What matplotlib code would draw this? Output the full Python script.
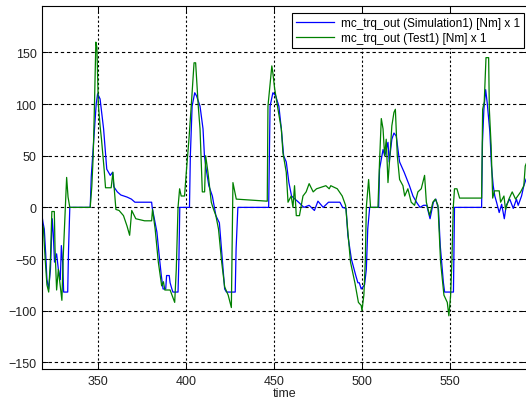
import matplotlib
matplotlib.use("Agg")
import matplotlib.pyplot as plt

# mc_trq_out, simulation run
sim_t = [318.2, 318.8, 319.5, 320.3, 321.0, 322.0, 323.0, 324.0, 324.6, 325.3, 326.5, 327.5,
         328.6, 329.2, 330.0, 330.5, 332.8, 333.3, 334.0, 345.6, 346.2, 347.0, 348.0, 349.0,
         349.8, 351.2, 353.2, 355.0, 357.0, 358.3, 359.0, 361.0, 363.0, 366.5, 369.0, 371.0,
         376.5, 380.5, 380.8, 382.5, 383.5, 385.0, 386.0, 387.0, 388.5, 389.0, 390.5, 391.0,
         392.0, 392.6, 395.5, 396.0, 396.5, 402.0, 402.5, 403.5, 405.0, 406.0, 408.0, 409.7,
         410.5, 411.5, 413.0, 415.0, 417.0, 419.0, 420.5, 422.0, 423.0, 428.0, 428.5, 429.5,
         447.0, 447.8, 449.4, 451.0, 452.8, 454.2, 455.5, 457.0, 458.5, 460.0, 462.0, 464.0,
         467.0, 470.0, 473.0, 475.0, 478.0, 481.0, 485.0, 487.5, 489.0, 491.0, 492.0, 494.0,
         496.5, 497.7, 498.5, 499.6, 501.5, 502.5, 503.3, 504.4, 509.5, 510.0, 512.0, 513.0,
         514.8, 515.5, 517.0, 518.2, 519.5, 521.4, 524.0, 527.0, 529.0, 531.0, 533.0, 535.0,
         536.8, 538.7, 540.6, 542.0, 543.5, 544.5, 546.3, 547.0, 552.0, 552.6, 568.0, 568.5,
         569.3, 570.3, 571.2, 572.7, 573.6, 574.6, 575.5, 576.5, 578.0, 579.4, 580.9, 582.0,
         584.0, 586.0, 587.8, 588.8, 590.7, 592.0, 593.2, 594.0]
sim_v = [-8, -15, -21, -45, -70, -79, -60, -11, -25, -53, -45, -60,
         -70, -37, -55, -82, -82, -40, 0, 0, 30, 50, 75, 100,
         110, 105, 76, 37, 31, 34, 20, 15, 12, 10, 8, 5,
         5, 5, 0, -15, -24, -50, -66, -79, -79, -66, -66, -73,
         -79, -82, -82, -50, 0, 0, 50, 98, 111, 108, 98, 76,
         50, 37, 21, 11, -8, -15, -47, -79, -82, -82, -40, 0,
         0, 98, 111, 108, 98, 76, 50, 44, 24, 11, 8, 5,
         0, 2, -3, 6, 0, 5, 5, 5, 0, -1, -27, -50,
         -66, -73, -73, -79, -75, -60, -21, 0, 0, 37, 56, 50,
         63, 44, 66, 72, 69, 44, 34, 21, 11, 5, 0, 2,
         2, -11, 5, 8, -2, -37, -73, -82, -82, 0, 0, 63,
         95, 114, 101, 73, 40, 21, 11, 5, -5, 3, -11, 2,
         8, -1, 8, 2, 11, 21, 27, 30]

# mc_trq_out, test bench measurement
test_t = [318.2, 319.0, 320.0, 321.0, 322.0, 323.0, 323.8, 325.2, 325.6, 326.5, 327.5, 328.5,
          329.5, 330.2, 331.2, 332.2, 333.0, 334.0, 345.6, 346.5, 347.3, 348.0, 348.8, 349.4,
          350.2, 351.2, 352.0, 353.5, 354.3, 357.5, 358.5, 359.2, 360.2, 362.0, 364.5, 366.5,
          368.0, 369.2, 371.5, 376.5, 380.5, 381.0, 382.5, 384.3, 386.2, 387.2, 388.0, 391.0,
          393.6, 394.5, 395.5, 396.4, 397.3, 399.2, 400.2, 401.7, 403.0, 404.6, 405.5, 407.0,
          408.0, 409.3, 410.6, 411.2, 412.5, 414.4, 415.3, 417.0, 418.5, 420.3, 422.0, 424.0,
          425.8, 426.7, 428.6, 446.2, 446.6, 447.6, 448.8, 449.4, 450.4, 452.3, 454.2, 455.1,
          457.0, 458.0, 459.8, 460.8, 461.7, 462.7, 464.5, 466.5, 468.3, 470.0, 472.3, 474.2,
          479.5, 481.4, 482.3, 486.0, 488.8, 490.7, 492.2, 493.5, 496.0, 498.0, 499.6, 500.0,
          501.1, 501.9, 502.5, 503.8, 504.9, 509.1, 510.0, 511.0, 512.0, 512.9, 513.8, 514.8,
          516.3, 517.0, 518.2, 519.0, 520.1, 521.4, 523.3, 524.3, 526.1, 528.0, 529.9, 531.8,
          533.7, 535.6, 536.6, 538.5, 540.3, 541.7, 543.2, 544.7, 546.6, 548.5, 549.4, 550.4,
          551.1, 551.9, 552.6, 554.0, 555.5, 568.0, 568.6, 569.5, 570.5, 572.0, 572.4, 573.4,
          574.3, 575.3, 578.0, 578.8, 580.7, 581.6, 583.5, 585.4, 587.3, 590.2, 592.0, 592.8,
          594.0]
test_v = [-15, -20, -50, -75, -82, -50, -4, -4, -40, -80, -60, -75,
          -90, -50, -10, 29, 10, 0, 0, 20, 50, 98, 160, 155,
          100, 79, 66, 37, 19, 19, 34, 19, -2, -3, -8, -18,
          -27, -3, -11, -13, -13, -2, -21, -53, -76, -72, -80, -80,
          -92, -60, 0, 18, 11, 11, 34, 66, 98, 140, 140, 98,
          76, 15, 15, 50, 34, 5, 0, -8, -21, -53, -77, -85,
          -97, 24, 8, 6, 98, 116, 137, 130, 115, 95, 76, 53,
          34, 5, 11, 0, 21, -8, -8, 11, 15, 23, 15, 18,
          21, 18, 21, 18, 11, 2, -27, -53, -73, -92, -95, -100,
          -85, -53, 0, 27, 0, 0, 44, 86, 76, 50, 66, 24,
          60, 79, 92, 95, 50, 27, 21, 11, 18, 5, 2, 15,
          18, 31, 5, -8, 5, 8, 2, -53, -85, -92, -105, -85,
          -53, 0, 18, 18, 9, 9, 95, 102, 145, 145, 95, 60,
          9, 16, 16, 5, 11, -2, 8, 15, 8, 15, 21, 40,
          45]

x_ticks = [350, 400, 450, 500, 550]
y_ticks = [-150, -100, -50, 0, 50, 100, 150]

plt.rcParams["font.family"] = ["Liberation Sans", "DejaVu Sans"]

fig = plt.figure(figsize=(5.26, 4.02), dpi=100)
ax = fig.add_axes([42 / 526, 32 / 402, 485 / 526, 363 / 402])

ax.plot(sim_t, sim_v, color="#0000ff", lw=0.9,
        label="mc_trq_out (Simulation1) [Nm] x 1")
ax.plot(test_t, test_v, color="#008000", lw=0.9,
        label="mc_trq_out (Test1) [Nm] x 1")

ax.set_xlim(318.2, 593.8)
ax.set_ylim(-156.5, 195)
ax.set_xticks(x_ticks)
ax.set_yticks(y_ticks)
ax.tick_params(direction="in", length=4, width=0.7, labelsize=9, labelcolor="#222222",
               top=True, right=True, pad=4)

for g in y_ticks:
    ax.axhline(g, color="black", lw=0.8, ls=(0, (3, 2.5)), zorder=0.5)
for g in x_ticks:
    ax.axvline(g, color="black", lw=0.8, ls=(0, (2, 2)), zorder=0.5)

for s in ax.spines.values():
    s.set_linewidth(0.8)

ax.set_xlabel("time", fontsize=9, color="#222222", labelpad=0)

leg = ax.legend(loc="upper right", bbox_to_anchor=(524 / 526, 1 - 14 / 402),
                bbox_transform=fig.transFigure, borderaxespad=0, fontsize=8.5,
                fancybox=False, edgecolor="black", framealpha=1, handlelength=3.2,
                borderpad=0.35, labelspacing=0.25, handletextpad=0.6)
leg.get_frame().set_linewidth(0.8)

fig.savefig("out.png", dpi=100)
